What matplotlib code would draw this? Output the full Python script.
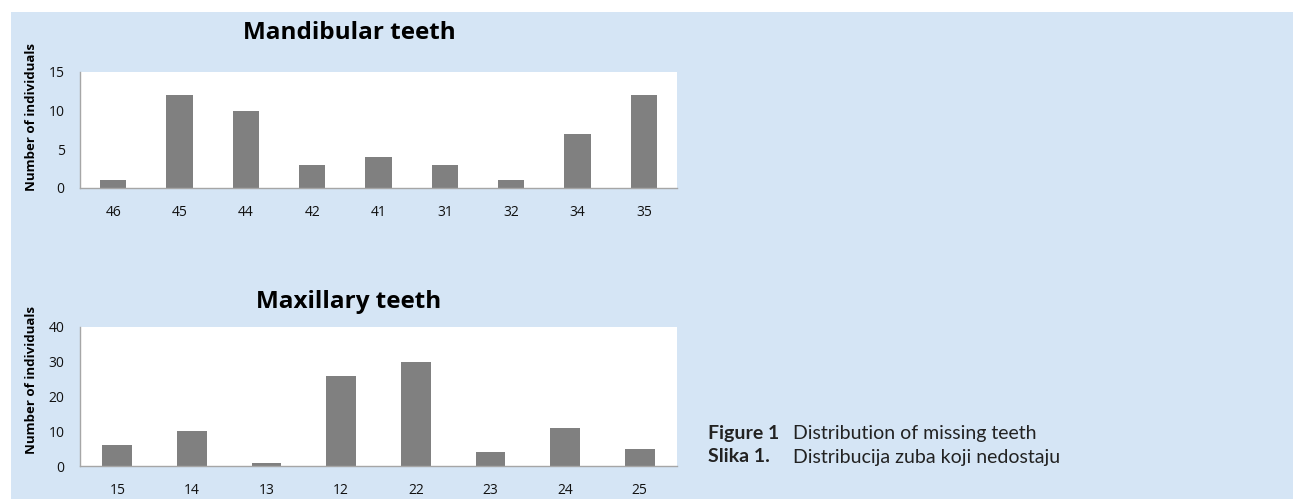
import matplotlib.pyplot as plt
from matplotlib.patches import Rectangle
import numpy as np

mand_teeth = ["46", "45", "44", "42", "41", "31", "32", "34", "35"]
mand_counts = [1, 12, 10, 3, 4, 3, 1, 7, 12]
max_teeth = ["15", "14", "13", "12", "22", "23", "24", "25"]
max_counts = [6, 10, 1, 26, 30, 4, 11, 5]

BG = "#d5e5f5"
BAR = "#808080"

plt.rcParams["font.family"] = ["Open Sans", "DejaVu Sans"]

W, H = 1293, 499
fig = plt.figure(figsize=(W / 100, H / 100), dpi=100)
fig.patches.append(Rectangle((11 / W, 0), 1 - 11 / W, 1 - 12 / H,
                             transform=fig.transFigure, facecolor=BG,
                             edgecolor="none", zorder=-10))


def panel(top, bottom, labels, values, ymax, step, title, title_y, ylab_y):
    ax = fig.add_axes([80 / W, 1 - bottom / H, 597 / W, (bottom - top) / H])
    x = np.arange(len(labels))
    ax.bar(x, values, width=0.4, color=BAR, edgecolor="none", zorder=2)
    ax.set_xlim(-0.5, len(labels) - 0.5)
    ax.set_ylim(0, ymax)
    ax.set_yticks(np.arange(0, ymax + 1, step))
    ax.set_xticks(x)
    ax.set_xticklabels(labels)
    ax.tick_params(axis="both", length=0, labelsize=10, colors="#111111")
    ax.tick_params(axis="x", pad=12.5)
    ax.tick_params(axis="y", pad=11)
    for s in ("top", "right"):
        ax.spines[s].set_visible(False)
    for s in ("left", "bottom"):
        ax.spines[s].set_color("#a6a6a6")
        ax.spines[s].set_linewidth(1.0)
    ax.set_facecolor("white")
    fig.text(32 / W, 1 - ylab_y / H, "Number of individuals", rotation=90,
             ha="center", va="center", fontsize=9.5, fontweight="bold")
    fig.text(349 / W, 1 - title_y / H, title, ha="center", va="center",
             fontsize=17.5, fontweight="bold", color="black")
    return ax


panel(72, 188, mand_teeth, mand_counts, 15, 5, "Mandibular teeth", 33, 117)
panel(327, 466, max_teeth, max_counts, 40, 10, "Maxillary teeth", 302, 380)

cap_color = "#222222"
cap = dict(fontsize=14, color=cap_color, va="center", family="Lato")
fig.text(708 / W, 1 - 434 / H, "Figure 1", fontweight="bold", **cap)
fig.text(793 / W, 1 - 434 / H, "Distribution of missing teeth", **cap)
fig.text(708 / W, 1 - 457 / H, "Slika 1.", fontweight="bold", **cap)
fig.text(793 / W, 1 - 457 / H, "Distribucija zuba koji nedostaju", **cap)

fig.savefig("out.png", dpi=100, facecolor="white")
